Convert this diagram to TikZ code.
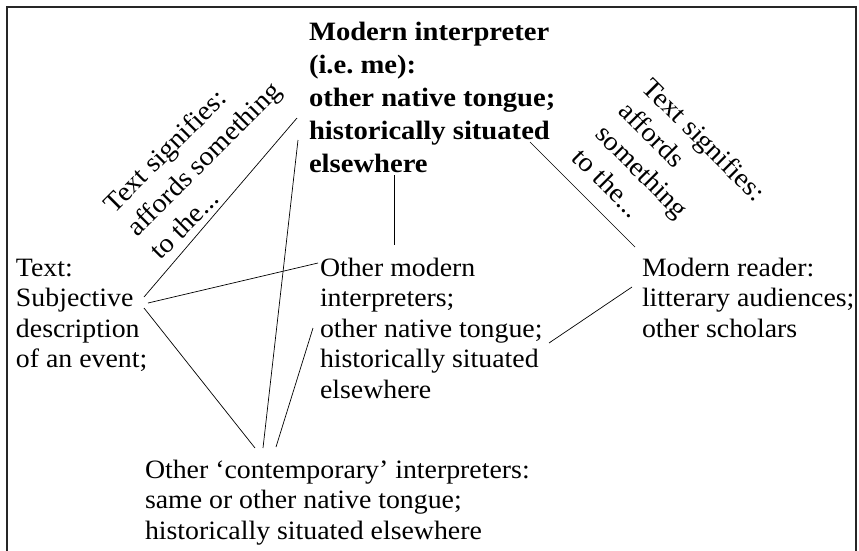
\documentclass[tikz,border=0pt]{standalone}
\usepackage{fontspec}
\setmainfont{Liberation Serif}[FakeStretch=1.05]
\newfontfamily\mebold{Liberation Serif}[FakeStretch=1.08]
\usetikzlibrary{calc}
\newcommand{\topstrut}[1]{\rule{0pt}{#1}}
\frenchspacing
\begin{document}
\begin{tikzpicture}[x=1pt,y=-1pt,
  lbl/.style={inner sep=0pt, outer sep=0pt, anchor=north west, align=left,
    font=\fontsize{26.5}{30.5}\selectfont},
  boldlbl/.style={inner sep=0pt, outer sep=0pt, anchor=north west, align=left,
    font=\mebold\bfseries\fontsize{26.5}{33}\selectfont},
  rotlbl/.style={inner sep=0pt, outer sep=0pt, anchor=north west, align=left,
    font=\fontsize{27}{33}\selectfont},
  conn/.style={draw=black, line width=0.7pt},
  frame/.style={draw=black!85, line width=1.4pt}]
\useasboundingbox (0,0) rectangle (859,550);
\draw[frame] (7,552) -- (7,7) -- (856,7) -- (856,552);

\node[boldlbl] (me) at (309,18) {\topstrut{22pt}Modern interpreter\\(i.e.\ me):\\other native tongue;\\historically situated\\elsewhere};
\node[lbl] (txt) at (16,256) {\topstrut{20pt}Text:\\Subjective\\description\\of an event;};
\node[lbl] (mint) at (320,256) {\topstrut{20pt}Other modern\\interpreters;\\other native tongue;\\historically situated\\elsewhere};
\node[lbl] (mread) at (642,256) {\topstrut{20pt}Modern reader:\\litterary audiences;\\other scholars};
\node[lbl] (ocont) at (145,458) {\topstrut{20pt}Other `contemporary' interpreters:\\same or other native tongue;\\historically situated elsewhere};

\node[rotlbl, rotate=45] (sigl) at (100,200) {\topstrut{20pt}Text signifies:\\affords something\\to the...};
\node[rotlbl, rotate=-45] (sigr) at (655,75) {\topstrut{20pt}Text signifies:\\affords\\something\\to the...};

\draw[conn] ($(me.north west)+(-12,100)$) -- ($(txt.north west)+(128,41)$);
\draw[conn] ($(txt.north west)+(132,47)$) -- ($(mint.north west)+(-2,7)$);
\draw[conn] ($(txt.north west)+(128,52)$) -- ($(ocont.north west)+(110,-10)$);
\draw[conn] ($(me.north west)+(-11,122)$) -- ($(ocont.north west)+(118,-10)$);
\draw[conn] ($(mint.north west)+(-7,72)$) -- ($(ocont.north west)+(131,-11)$);
\draw[conn] ($(me.north west)+(85,157)$) -- ($(mint.north west)+(74,-11)$);
\draw[conn] ($(me.north west)+(221,124)$) -- ($(mread.north west)+(-7,-9)$);
\draw[conn] ($(mint.north west)+(229,87)$) -- ($(mread.north west)+(-10,31)$);
\end{tikzpicture}
\end{document}
